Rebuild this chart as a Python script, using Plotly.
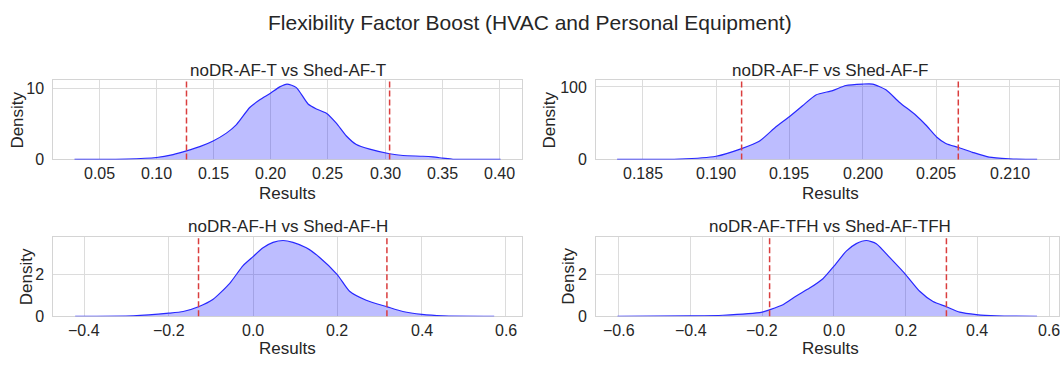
import plotly.graph_objects as go
from plotly.subplots import make_subplots

# ---- data -----------------------------------------------------------------
titles = ["noDR-AF-T vs Shed-AF-T", "noDR-AF-F vs Shed-AF-F",
          "noDR-AF-H vs Shed-AF-H", "noDR-AF-TFH vs Shed-AF-TFH"]

# kernel density estimates (x = result value, y = density)
t_x = [0.0284, 0.0302, 0.0739, 0.1001, 0.1146, 0.1263, 0.1379, 0.1496, 0.1612,
       0.1700, 0.1816, 0.1904, 0.1997, 0.2078, 0.2142, 0.2224, 0.2326, 0.2399,
       0.2486, 0.2573, 0.2661, 0.2748, 0.2865, 0.3039, 0.3156, 0.3331, 0.3418,
       0.3505, 0.3593, 0.3800, 0.4009]
t_y = [0.0, 0.0, 0.05, 0.27, 0.68, 1.2, 1.8, 2.6, 3.7,
       4.9, 7.3, 8.4, 9.3, 10.2, 10.6, 10.1, 7.8, 7.1,
       6.5, 5.1, 3.3, 2.1, 1.45, 0.8, 0.55, 0.45, 0.35,
       0.18, 0.02, 0.0, 0.0]

f_x = [0.18326, 0.18330, 0.18750, 0.19000, 0.19174, 0.19294, 0.19408, 0.19499,
       0.19589, 0.19680, 0.19794, 0.19884, 0.19998, 0.20066, 0.20157, 0.20248,
       0.20361, 0.20429, 0.20502, 0.20565, 0.20652, 0.20747, 0.20860, 0.20997,
       0.21110, 0.21187]
f_y = [0.0, 0.0, 0.4, 4.4, 15.0, 25.0, 45.0, 59.0,
       74.0, 89.0, 95.0, 102.0, 104.0, 104.0, 96.0, 79.0,
       61.0, 47.5, 31.0, 22.0, 16.4, 9.8, 3.1, 0.9,
       0.2, 0.0]

h_x = [-0.422, -0.2842, -0.1997, -0.1658, -0.1295, -0.0947, -0.0553, -0.0237,
       0.0, 0.0237, 0.0474, 0.0711, 0.0947, 0.1263, 0.1579, 0.1997, 0.2289,
       0.2684, 0.3174, 0.3553, 0.4003, 0.4500, 0.5720]
h_y = [0.0, 0.02, 0.15, 0.23, 0.46, 0.82, 1.58, 2.43,
       2.86, 3.28, 3.54, 3.63, 3.54, 3.28, 2.82, 2.0, 1.2,
       0.77, 0.46, 0.23, 0.09, 0.02, 0.0]

tfh_x = [-0.6038, -0.4, -0.3098, -0.2, -0.1795, -0.1423, -0.1051, -0.0679,
         -0.0307, 0.0, 0.0344, 0.0623, 0.0902, 0.1181, 0.1553, 0.2, 0.2391,
         0.2763, 0.3135, 0.3507, 0.3972, 0.4530, 0.5665]
tfh_y = [0.0, 0.02, 0.05, 0.2, 0.31, 0.55, 0.97, 1.35,
         1.8, 2.4, 3.12, 3.48, 3.63, 3.48, 2.82, 2.0, 1.2,
         0.71, 0.46, 0.2, 0.08, 0.02, 0.0]

# 2.5% / 97.5% bounds shown as dashed markers
t_bounds = [0.1263, 0.3039]
f_bounds = [0.19174, 0.2065]
h_bounds = [-0.1294, 0.3175]
tfh_bounds = [-0.1795, 0.3137]

# axis ticks
t_ticks = [0.05, 0.10, 0.15, 0.20, 0.25, 0.30, 0.35, 0.40]
t_labels = ["0.05", "0.10", "0.15", "0.20", "0.25", "0.30", "0.35", "0.40"]
f_ticks = [0.185, 0.190, 0.195, 0.200, 0.205, 0.210]
f_labels = ["0.185", "0.190", "0.195", "0.200", "0.205", "0.210"]
h_ticks = [-0.4, -0.2, 0.0, 0.2, 0.4, 0.6]
h_labels = ["\u22120.4", "\u22120.2", "0.0", "0.2", "0.4", "0.6"]
tfh_ticks = [-0.6, -0.4, -0.2, 0.0, 0.2, 0.4, 0.6]
tfh_labels = ["\u22120.6", "\u22120.4", "\u22120.2", "0.0", "0.2", "0.4", "0.6"]
t_yticks, f_yticks, h_yticks, tfh_yticks = [0, 10], [0, 100], [0, 2], [0, 2]

# ---- layout geometry (pixels) --------------------------------------------
W, H = 1060, 367
FONT = "Liberation Sans, Arial, sans-serif"
TXT = "#262626"

panels = [
    dict(x=t_x, y=t_y, b=t_bounds, xt=t_ticks, xl=t_labels, yt=t_yticks,
         xr=[0.0098, 0.4195], yr=[0, 11.13], px=(53.3, 522.3), py=(80.7, 162.3),
         dens_dx=-35.5, res_dy=-34),
    dict(x=f_x, y=f_y, b=f_bounds, xt=f_ticks, xl=f_labels, yt=f_yticks,
         xr=[0.18183, 0.21336], yr=[0, 109.2], px=(596.7, 1060.0), py=(80.7, 162.3),
         dens_dx=-46.4, res_dy=-34),
    dict(x=h_x, y=h_y, b=h_bounds, xt=h_ticks, xl=h_labels, yt=h_yticks,
         xr=[-0.474, 0.6375], yr=[0, 3.81], px=(53.3, 522.3), py=(242.0, 324.0),
         dens_dx=-26.6, res_dy=-32),
    dict(x=tfh_x, y=tfh_y, b=tfh_bounds, xt=tfh_ticks, xl=tfh_labels, yt=tfh_yticks,
         xr=[-0.6633, 0.6277], yr=[0, 3.81], px=(596.7, 1060.0), py=(242.0, 324.0),
         dens_dx=-27.9, res_dy=-32),
]


def fx(p):
    return p / W


def fy(p):
    return 1 - p / H


fig = make_subplots(rows=2, cols=2)
annotations = []
label_font = dict(size=17, color=TXT, family=FONT)
tick_font = dict(size=16, color=TXT, family=FONT)

for i, p in enumerate(panels):
    r, c = i // 2 + 1, i % 2 + 1
    sfx = "" if i == 0 else str(i + 1)
    xa, ya = "x" + sfx, "y" + sfx

    fig.add_trace(go.Scatter(
        x=p["x"], y=p["y"], mode="lines",
        line=dict(color="rgb(40,40,255)", width=1.2, shape="spline", smoothing=0.6),
        fill="tozeroy", fillcolor="rgba(0,0,255,0.26)", hoverinfo="skip", showlegend=False,
    ), row=r, col=c)
    for b in p["b"]:
        fig.add_vline(x=b, line=dict(color="rgb(218,62,62)", width=1.5, dash="6px,3px"), row=r, col=c)

    (x0, x1), (y0, y1) = p["px"], p["py"]
    fig.update_xaxes(domain=[fx(x0), fx(x1)], range=p["xr"], tickvals=p["xt"], row=r, col=c)
    fig.update_yaxes(domain=[fy(y1), fy(y0)], range=p["yr"], tickvals=p["yt"], row=r, col=c)

    # x tick labels, placed on the axis scale just under each panel; the
    # vertical reference is the panel's bottom edge expressed in paper units
    for v, lab in zip(p["xt"], p["xl"]):
        annotations.append(dict(text=lab, x=v, xref=xa, y=fy(y1), yref="paper",
                                xanchor="center", yanchor="middle", yshift=-14.5,
                                showarrow=False, font=tick_font))

    # panel title and axis titles; the right column is centred on its full
    # (page-clipped) width
    cx = (x0 + 1065.7) / 2 if c == 2 else (x0 + x1) / 2
    annotations.append(dict(text=titles[i], x=fx(cx), xref="paper", y=1, yref=ya + " domain",
                            xanchor="center", yanchor="middle", yshift=10,
                            showarrow=False, font=label_font))
    annotations.append(dict(text="Results", x=fx(cx), xref="paper", y=0, yref=ya + " domain",
                            xanchor="center", yanchor="middle", yshift=p["res_dy"],
                            showarrow=False, font=label_font))
    annotations.append(dict(text="Density", x=0, xref=xa + " domain", y=0.5, yref=ya + " domain",
                            xanchor="center", yanchor="middle", xshift=p["dens_dx"], textangle=-90,
                            showarrow=False, font=label_font))

annotations.append(dict(text="Flexibility Factor Boost (HVAC and Personal Equipment)", x=0.5, y=fy(21),
                        xref="paper", yref="paper", xanchor="center", yanchor="middle", showarrow=False,
                        font=dict(size=21, color=TXT, family=FONT)))

fig.update_xaxes(showgrid=True, gridcolor="#dcdcdc", gridwidth=1, zeroline=False,
                 showline=True, mirror=True, linecolor="#d4d4d4", linewidth=1,
                 ticks="", showticklabels=False, layer="below traces")
fig.update_yaxes(showgrid=True, gridcolor="#dcdcdc", gridwidth=1, zeroline=False,
                 showline=True, mirror=True, linecolor="#d4d4d4", linewidth=1,
                 ticks="", ticklabelstandoff=5, layer="below traces", tickfont=tick_font)

fig.update_layout(width=W, height=H, margin=dict(l=0, r=0, t=0, b=0),
                  paper_bgcolor="white", plot_bgcolor="white",
                  annotations=annotations, font=dict(family=FONT, color=TXT),
                  showlegend=False)

fig.write_html("out.html", config={"displayModeBar": False})
